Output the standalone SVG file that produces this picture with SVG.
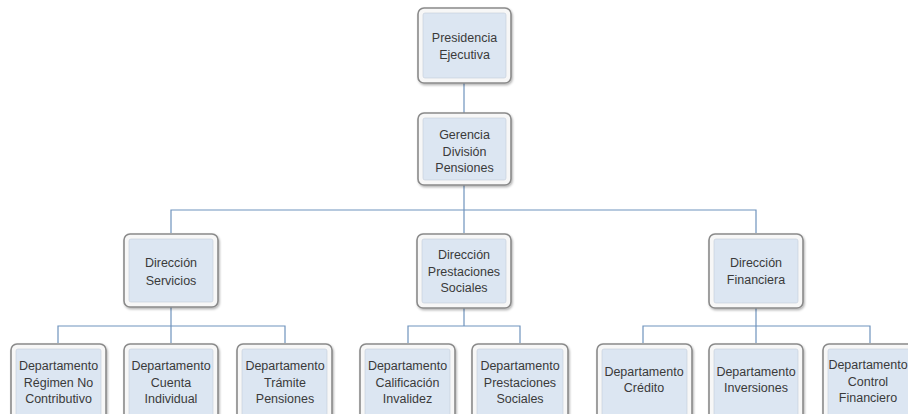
<svg xmlns="http://www.w3.org/2000/svg" width="908" height="414" viewBox="0 0 908 414">
<style>
.o{fill:#f7f7f7;stroke:#8a8a8a;stroke-width:1.6}
.i{fill:#dce6f2;stroke:#c3ccd8;stroke-width:0.6}
.t{font-family:"Liberation Sans",Arial,sans-serif;font-size:12.5px;fill:#3a3a3a;text-anchor:middle}
.c{fill:none;stroke:#6f93bd;stroke-width:1.2}
</style>
<defs>
<filter id="sh" x="-10%" y="-10%" width="125%" height="125%">
<feDropShadow dx="1" dy="1.5" stdDeviation="1.2" flood-color="#000" flood-opacity="0.3"/>
</filter>
</defs>
<rect width="908" height="414" fill="#fff"/>
<g id="connectors">
<path class="c" d="M464 83V113M464 185V233M171 233V210H756V233"/>
<path class="c" d="M171 307V343M58 343V326H285V343"/>
<path class="c" d="M464 308V326M408 343V326H520V343"/>
<path class="c" d="M756 308V343M643 343V326H870V343"/>
</g>
<g id="presidencia">
<rect class="o" x="418" y="8" width="93" height="75" rx="6" filter="url(#sh)"/>
<rect class="i" x="423" y="13" width="83" height="65" rx="2"/>
<text class="t" x="464.5" y="42">Presidencia</text>
<text class="t" x="464.5" y="59">Ejecutiva</text>
</g>
<g id="gerencia">
<rect class="o" x="418" y="113" width="93" height="72" rx="6" filter="url(#sh)"/>
<rect class="i" x="423" y="118" width="83" height="62" rx="2"/>
<text class="t" x="464.5" y="139">Gerencia</text>
<text class="t" x="464.5" y="155.5">División</text>
<text class="t" x="464.5" y="172">Pensiones</text>
</g>
<g id="dir-servicios">
<rect class="o" x="124" y="234" width="94" height="73" rx="6" filter="url(#sh)"/>
<rect class="i" x="129" y="239" width="84" height="63" rx="2"/>
<text class="t" x="171" y="267">Dirección</text>
<text class="t" x="171" y="285">Servicios</text>
</g>
<g id="dir-prestaciones">
<rect class="o" x="417" y="234" width="94" height="74" rx="6" filter="url(#sh)"/>
<rect class="i" x="422" y="239" width="84" height="64" rx="2"/>
<text class="t" x="464" y="259">Dirección</text>
<text class="t" x="464" y="276">Prestaciones</text>
<text class="t" x="464" y="292">Sociales</text>
</g>
<g id="dir-financiera">
<rect class="o" x="709" y="234" width="94" height="74" rx="6" filter="url(#sh)"/>
<rect class="i" x="714" y="239" width="84" height="64" rx="2"/>
<text class="t" x="756" y="267">Dirección</text>
<text class="t" x="756" y="284">Financiera</text>
</g>
<g id="dep-regimen">
<rect class="o" x="11" y="344" width="95" height="80" rx="6" filter="url(#sh)"/>
<rect class="i" x="16" y="349" width="85" height="70" rx="2"/>
<text class="t" x="58.5" y="370">Departamento</text>
<text class="t" x="58.5" y="387">Régimen No</text>
<text class="t" x="58.5" y="403">Contributivo</text>
</g>
<g id="dep-cuenta">
<rect class="o" x="124" y="344" width="94" height="80" rx="6" filter="url(#sh)"/>
<rect class="i" x="129" y="349" width="84" height="70" rx="2"/>
<text class="t" x="171" y="370">Departamento</text>
<text class="t" x="171" y="387">Cuenta</text>
<text class="t" x="171" y="403">Individual</text>
</g>
<g id="dep-tramite">
<rect class="o" x="237" y="344" width="95" height="80" rx="6" filter="url(#sh)"/>
<rect class="i" x="242" y="349" width="85" height="70" rx="2"/>
<text class="t" x="285" y="370">Departamento</text>
<text class="t" x="285" y="387">Trámite</text>
<text class="t" x="285" y="403">Pensiones</text>
</g>
<g id="dep-calificacion">
<rect class="o" x="360" y="344" width="95" height="80" rx="6" filter="url(#sh)"/>
<rect class="i" x="365" y="349" width="85" height="70" rx="2"/>
<text class="t" x="407.5" y="370">Departamento</text>
<text class="t" x="407.5" y="387">Calificación</text>
<text class="t" x="407.5" y="403">Invalidez</text>
</g>
<g id="dep-prestaciones">
<rect class="o" x="472" y="344" width="96" height="80" rx="6" filter="url(#sh)"/>
<rect class="i" x="477" y="349" width="86" height="70" rx="2"/>
<text class="t" x="520" y="370">Departamento</text>
<text class="t" x="520" y="387">Prestaciones</text>
<text class="t" x="520" y="403">Sociales</text>
</g>
<g id="dep-credito">
<rect class="o" x="597" y="344" width="95" height="80" rx="6" filter="url(#sh)"/>
<rect class="i" x="602" y="349" width="85" height="70" rx="2"/>
<text class="t" x="644" y="376">Departamento</text>
<text class="t" x="644" y="392">Crédito</text>
</g>
<g id="dep-inversiones">
<rect class="o" x="709" y="344" width="94" height="80" rx="6" filter="url(#sh)"/>
<rect class="i" x="714" y="349" width="84" height="70" rx="2"/>
<text class="t" x="756" y="376">Departamento</text>
<text class="t" x="756" y="392">Inversiones</text>
</g>
<g id="dep-control">
<rect class="o" x="823" y="344" width="95" height="80" rx="6" filter="url(#sh)"/>
<rect class="i" x="828" y="349" width="85" height="70" rx="2"/>
<text class="t" x="868" y="369">Departamento</text>
<text class="t" x="868" y="386">Control</text>
<text class="t" x="868" y="402">Financiero</text>
</g>
</svg>
